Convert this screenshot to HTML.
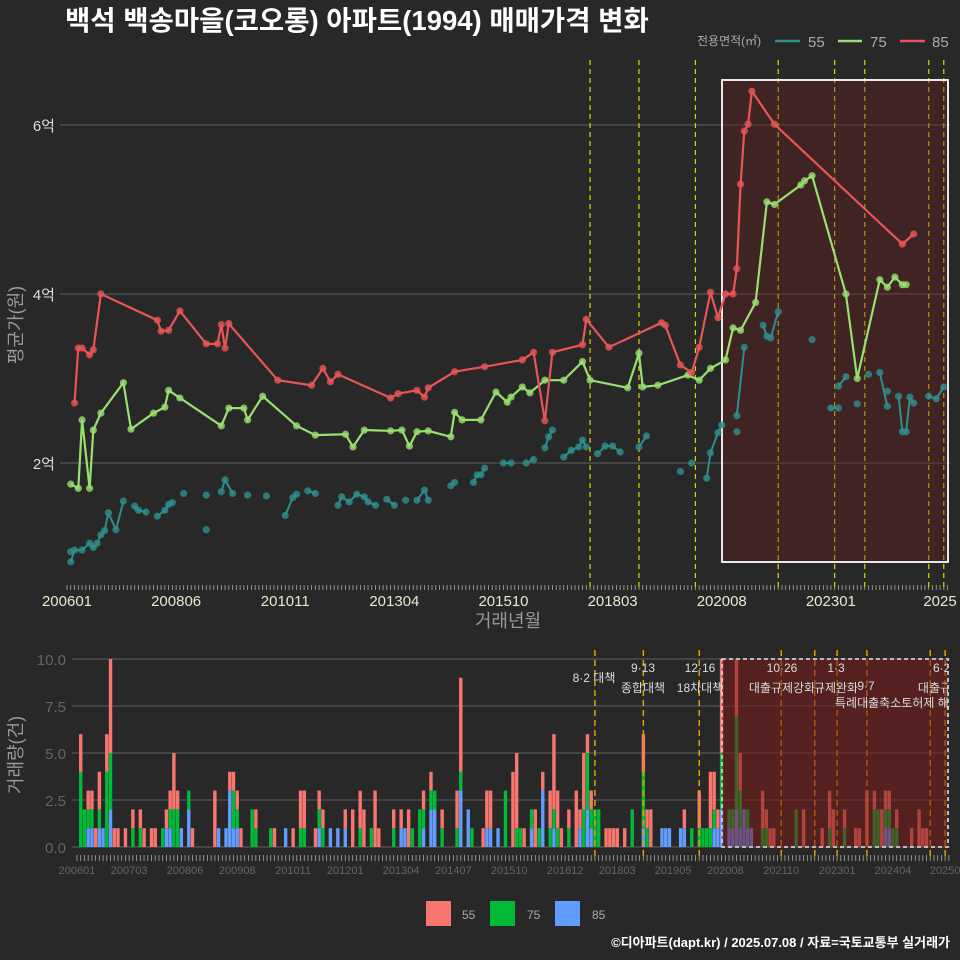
<!DOCTYPE html>
<html><head><meta charset="utf-8"><style>
html,body{margin:0;padding:0;background:#282828;}
svg{display:block;font-family:"Liberation Sans","Noto Sans CJK KR",sans-serif;}
</style></head><body>
<svg id="c" width="960" height="960" viewBox="0 0 960 960">
<rect x="0" y="0" width="960" height="960" fill="#282828"/>
<defs><clipPath id="clipB"><rect x="72" y="640" width="876" height="220"/></clipPath>
<clipPath id="clipT"><rect x="60" y="55" width="890" height="535"/></clipPath></defs>
<text x="65" y="30" fill="#ffffff" font-size="27.5" font-weight="bold">백석 백송마을(코오롱) 아파트(1994) 매매가격 변화</text>
<g>
<text x="697" y="45" fill="#aaaaaa" font-size="12">전용면적(㎡)</text>
<line x1="775" y1="41" x2="800" y2="41" stroke="#2e8f8f" stroke-width="2.5"/>
<text x="808" y="47" fill="#aaaaaa" font-size="15">55</text>
<line x1="838" y1="41" x2="862" y2="41" stroke="#98e070" stroke-width="2.5"/>
<text x="870" y="47" fill="#aaaaaa" font-size="15">75</text>
<line x1="900" y1="41" x2="925" y2="41" stroke="#e85555" stroke-width="2.5"/>
<text x="932" y="47" fill="#aaaaaa" font-size="15">85</text>
</g>
<g id="topPanel"></g>
<g id="botPanel"></g>
<text x="508" y="627" fill="#999999" font-size="18" text-anchor="middle">거래년월</text>
<text transform="translate(22,325) rotate(-90)" fill="#999999" font-size="18" text-anchor="middle">평균가(원)</text>
<text transform="translate(22,755) rotate(-90)" fill="#999999" font-size="18" text-anchor="middle">거래량(건)</text>
<g>
<rect x="426" y="901" width="25" height="25" fill="#f8766d"/>
<text x="462" y="919" fill="#aaaaaa" font-size="12">55</text>
<rect x="490" y="901" width="25" height="25" fill="#00ba38"/>
<text x="527" y="919" fill="#aaaaaa" font-size="12">75</text>
<rect x="555" y="901" width="25" height="25" fill="#619cff"/>
<text x="592" y="919" fill="#aaaaaa" font-size="12">85</text>
</g>
<text x="950" y="947" fill="#ffffff" font-size="13" font-weight="bold" text-anchor="end">©디아파트(dapt.kr) / 2025.07.08 / 자료=국토교통부 실거래가</text>
</svg>
<script>
// months since 2006-01
const price85 = [[2,2.71],[3,3.36],[4,3.36],[6,3.28],[7,3.34],[9,4.0],[24,3.69],[25,3.56],[27,3.57],[30,3.8],[37,3.41],[40,3.41],[41,3.64],[42,3.36],[43,3.65],[56,2.98],[65,2.92],[68,3.12],[70,2.96],[72,3.05],[86,2.77],[88,2.82],[93,2.86],[95,2.78],[96,2.89],[103,3.08],[111,3.14],[121,3.22],[124,3.31],[127,2.5],[129,3.31],[137,3.4],[138,3.7],[144,3.37],[158,3.66],[159,3.63],[163,3.16],[166,3.07],[168,3.37],[171,4.02],[173,3.72],[175,4.0],[177,4.0],[178,4.3],[179,5.3],[180,5.93],[181,6.01],[182,6.40],[188,6.01],[222,4.59],[225,4.71]];
const price75 = [[1,1.75],[3,1.70],[4,2.51],[6,1.70],[7,2.39],[9,2.59],[15,2.95],[17,2.40],[23,2.59],[26,2.66],[27,2.86],[30,2.77],[41,2.44],[43,2.65],[47,2.65],[48,2.51],[52,2.79],[61,2.44],[66,2.33],[74,2.34],[76,2.19],[79,2.39],[86,2.38],[89,2.39],[91,2.2],[93,2.37],[96,2.38],[102,2.31],[103,2.6],[105,2.51],[110,2.51],[114,2.84],[117,2.72],[118,2.78],[121,2.9],[123,2.83],[127,2.98],[132,2.98],[137,3.2],[139,2.98],[149,2.89],[152,3.3],[153,2.9],[157,2.92],[165,3.04],[168,2.98],[171,3.12],[175,3.22],[177,3.6],[179,3.57],[183,3.9],[186,5.09],[188,5.06],[195,5.29],[196,5.34],[198,5.40],[207,4.0],[210,3.0],[216,4.17],[218,4.08],[220,4.2],[222,4.11],[223,4.11]];
const price55 = [[1,0.95],[1,0.83],[2,0.97],[4,0.97],[6,1.05],[7,1.0],[8,1.05],[9,1.15],[10,1.2],[11,1.41],[13,1.21],[15,1.55],[18,1.49],[19,1.44],[21,1.42],[24,1.37],[26,1.44],[27,1.51],[28,1.53],[31,1.64],[37,1.62],[37,1.21],[41,1.66],[42,1.8],[44,1.64],[48,1.62],[53,1.61],[58,1.38],[60,1.59],[61,1.63],[64,1.67],[66,1.64],[72,1.5],[73,1.6],[75,1.54],[77,1.63],[79,1.6],[80,1.54],[82,1.5],[85,1.57],[87,1.5],[90,1.56],[93,1.56],[95,1.68],[96,1.56],[102,1.73],[103,1.77],[108,1.77],[109,1.86],[110,1.86],[111,1.94],[116,2.0],[118,2.0],[122,2.0],[124,2.04],[127,2.18],[128,2.31],[129,2.39],[132,2.07],[134,2.15],[136,2.19],[137,2.27],[138,2.19],[141,2.11],[143,2.2],[145,2.2],[147,2.13],[152,2.19],[154,2.32],[163,1.9],[166,2.0],[170,1.82],[171,2.12],[173,2.36],[174,2.45],[178,2.37],[178,2.56],[180,3.37],[185,3.63],[186,3.5],[187,3.48],[189,3.79],[198,3.46],[203,2.65],[205,2.65],[205,2.91],[207,3.02],[210,2.7],[213,3.05],[216,3.07],[218,2.67],[218,2.85],[221,2.79],[222,2.37],[223,2.37],[224,2.78],[225,2.71],[229,2.79],[231,2.76],[233,2.9]];
const yTicks = [2,4,6];
const yTickLabels = ["2억","4억","6억"];
const xTickMonths = [0,29,58,87,116,145,174,203,232];
const xTickLabels = ["200601","200806","201011","201304","201510","201803","202008","202301","2025"];
const policyMonths = [139,152,167,189,204,212,229,233];
const vol55 = [[1,2],[3,1],[4,1],[5,1],[6,2],[8,2],[9,5],[10,1],[11,1],[13,1],[15,1],[17,1],[18,1],[20,1],[21,1],[24,1],[25,1],[26,3],[27,1],[31,1],[37,3],[41,1],[42,1],[43,1],[44,1],[48,1],[53,1],[58,1],[60,2],[61,2],[64,1],[65,1],[66,1],[72,1],[74,2],[76,2],[77,2],[80,3],[81,1],[85,1],[87,1],[89,2],[93,1],[95,1],[98,1],[102,2],[103,5],[109,1],[110,2],[111,2],[117,4],[118,4],[120,1],[123,2],[125,1],[127,2],[128,4],[129,2],[130,1],[132,1],[134,3],[135,1],[136,3],[137,1],[138,1],[142,1],[143,1],[144,1],[145,1],[147,1],[152,2],[153,1],[154,2],[163,1],[167,2],[170,3],[171,2],[172,1],[173,5],[177,3],[178,2],[184,2],[185,1],[186,1],[187,1],[195,2],[200,1],[202,2],[203,2],[206,1],[209,1],[210,1],[212,3],[214,1],[216,2],[217,1],[218,1],[220,1],[224,1],[226,2],[227,1],[228,1]];
const vol75 = [[1,4],[2,2],[3,1],[4,1],[6,1],[8,4],[9,3],[15,1],[17,1],[23,1],[25,1],[26,2],[27,2],[30,1],[42,2],[43,1],[47,2],[48,1],[52,1],[60,1],[61,1],[65,1],[66,1],[76,1],[79,1],[85,1],[90,1],[92,2],[93,1],[95,1],[96,1],[98,1],[102,1],[103,1],[106,1],[115,3],[118,1],[119,1],[122,1],[124,1],[127,1],[128,1],[129,1],[132,1],[136,2],[137,3],[138,1],[139,2],[140,2],[149,2],[152,3],[153,1],[165,1],[167,1],[168,1],[169,1],[170,1],[171,1],[173,3],[175,1],[176,1],[177,5],[178,2],[180,1],[184,1],[185,1],[193,2],[202,1],[206,1],[214,2],[215,2],[217,1],[218,1],[219,1],[220,1]];
const vol85 = [[3,1],[4,1],[6,1],[7,1],[9,2],[24,1],[25,1],[28,1],[30,2],[38,1],[40,1],[41,3],[42,1],[43,1],[56,1],[65,1],[68,1],[70,1],[72,1],[87,1],[88,1],[93,1],[95,2],[96,2],[103,3],[105,2],[110,1],[111,1],[113,1],[122,1],[125,3],[128,1],[135,1],[137,2],[138,1],[152,1],[157,1],[158,1],[159,1],[162,1],[163,1],[171,1],[172,1],[173,2],[175,1],[176,1],[177,2],[178,1],[179,2],[180,1],[181,1],[217,1],[218,1]];
const volTicks = [0,2.5,5,7.5,10];
const volTickLabels = ["0.0","2.5","5.0","7.5","10.0"];
const volXMonths = [0,14,29,43,58,72,87,101,116,131,145,160,174,189,204,219,233];
const volXLabels = ["200601","200703","200806","200908","201011","201201","201304","201407","201510","201612","201803","201905","202008","202110","202301","202404","20250"];
const volPolicyMonths = [139,152,167,189,198,204,212,229,233];

const NS="http://www.w3.org/2000/svg";
function mk(p,tag,a){const e=document.createElementNS(NS,tag);for(const k in a)e.setAttribute(k,a[k]);p.appendChild(e);return e;}
const xT=m=>67+m*3.763, yT=v=>463-(v-2)*84.5;
const xB=m=>77+m*3.726, yB=v=>847-v*18.8;
const topG=document.getElementById('topPanel'), botG=document.getElementById('botPanel');

yTicks.forEach((t,i)=>{
 let g=mk(topG,'line',{x1:60,x2:950,y1:yT(t),y2:yT(t),stroke:'#555',"stroke-width":1.2});
 
 
 let tx=mk(topG,'text',{x:55,y:yT(t)+6,fill:'#dddddd',"font-size":15,"text-anchor":"end"});
 tx.textContent=yTickLabels[i];
 
 
});
for(let m=0;m<=234;m++){
 let t=mk(topG,'line',{x1:xT(m),x2:xT(m),y1:585,y2:590,stroke:'#aaa',"stroke-width":0.8});
 
 
}
xTickMonths.forEach((m,i)=>{
 let tx=mk(topG,'text',{x:xT(m),y:606,fill:'#e8e8d0',"font-size":15,"text-anchor":"middle"});
 tx.textContent=xTickLabels[i];
 
 
});
policyMonths.forEach(m=>{
 let l=mk(topG,'line',{x1:xT(m),x2:xT(m),y1:60,y2:590,stroke:'#d8d800',"stroke-width":1.2,"stroke-dasharray":"5,4"});
 
 
});
let hr=mk(topG,'rect',{x:722,y:80,width:226,height:482,fill:'rgba(110,25,25,0.35)',stroke:'#ffffff',"stroke-width":1.8});



function series(data,color,name,connectAll){
 const g=mk(topG,'g',{"clip-path":"url(#clipT)"});
 
 
 if(connectAll){
  let d=data.map((p,i)=>(i?'L':'M')+xT(p[0]).toFixed(1)+' '+yT(p[1]).toFixed(1)).join(' ');
  let pl=mk(g,'path',{d:d,fill:'none',stroke:color,"stroke-width":2.2});
  
  
 } else {
  for(let i=1;i<data.length;i++){
   if(data[i][0]-data[i-1][0]<=2 && data[i][0]!==data[i-1][0]){
    let s=mk(g,'line',{x1:xT(data[i-1][0]),y1:yT(data[i-1][1]),x2:xT(data[i][0]),y2:yT(data[i][1]),stroke:color,"stroke-width":2});
    
    
   }
  }
 }
 data.forEach(p=>{
  let c=mk(g,'circle',{cx:xT(p[0]),cy:yT(p[1]),r:3.6,fill:color,"fill-opacity":0.8});
  
  
 });
}
series(price55,'#2e8f8f','series-55',false);
series(price75,'#98e070','series-75',true);
series(price85,'#e85555','series-85',true);

volTicks.forEach((t,i)=>{
 let g=mk(botG,'line',{x1:72,x2:950,y1:yB(t),y2:yB(t),stroke:'#555',"stroke-width":1.2});
 
 
 let tx=mk(botG,'text',{x:66,y:yB(t)+6,fill:'#666',"font-size":15,"text-anchor":"end"});
 tx.textContent=volTickLabels[i];
 
 
});
const stacks={};
function addStack(arr,color,name){
 arr.forEach(p=>{
  const base=stacks[p[0]]||0;
  let r=mk(botG,'rect',{x:xB(p[0])-1.7,y:yB(base+p[1]),width:3.4,height:p[1]*18.8,fill:color});
  
  
  stacks[p[0]]=base+p[1];
 });
}
addStack(vol85,'#619cff','bar-85');
addStack(vol75,'#00ba38','bar-75');
addStack(vol55,'#f8766d','bar-55');
for(let m=0;m<=234;m++){
 let t=mk(botG,'line',{x1:xB(m),x2:xB(m),y1:855,y2:861,stroke:'#aaa',"stroke-width":0.8});
 
 
}
volXMonths.forEach((m,i)=>{
 let tx=mk(botG,'text',{x:xB(m),y:874,fill:'#666',"font-size":11,"text-anchor":"middle"});
 tx.textContent=volXLabels[i];
 
 
});
volPolicyMonths.forEach(m=>{
 let l=mk(botG,'line',{x1:xB(m),x2:xB(m),y1:650,y2:860,stroke:'#e0a000',"stroke-width":1.5,"stroke-dasharray":"6,4"});
 
 
});
let br=mk(botG,'rect',{x:722,y:659,width:226,height:188,fill:'rgba(120,25,25,0.55)',stroke:'#cccccc',"stroke-width":1.8,"stroke-dasharray":"4,3"});


const ann=mk(botG,'g',{"clip-path":"url(#clipB)"});


const annText=[["8·2 대책",594,682,"middle"],["9·13",643,672,"middle"],["종합대책",643,692,"middle"],["12·16",700,672,"middle"],["18차대책",700,692,"middle"],["10·26",782,672,"middle"],["대출규제강화",782,692,"middle"],["1·3",836,672,"middle"],["규제완화",836,692,"middle"],["9·7",866,690,"middle"],["특례대출축소토허제 해제",835,707,"start"],["6·27",945,672,"middle"],["대출규제",940,692,"middle"]];
annText.forEach(a=>{
 let t=mk(ann,'text',{x:a[1],y:a[2],fill:'#dddddd',"font-size":12,"text-anchor":a[3]});
 t.textContent=a[0];
 
 
});
</script>
</body></html>
